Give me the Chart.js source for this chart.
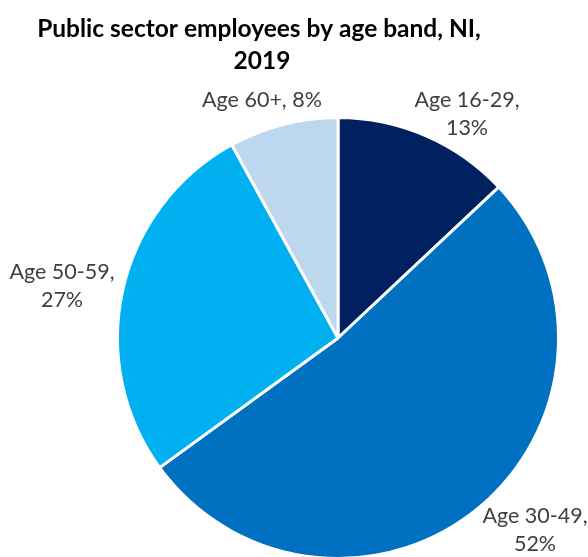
<!DOCTYPE html>
<html>
<head>
<meta charset="utf-8">
<script src="https://cdn.jsdelivr.net/npm/chart.js@4/dist/chart.umd.min.js"></script>
<style>
  html, body { margin: 0; padding: 0; background: #fff; overflow: hidden; }
  #frame { width: 588px; height: 557px; overflow: hidden; }
  #wrap { width: 588px; height: 560px; position: relative; }
</style>
</head>
<body>
<div id="frame"><div id="wrap"><canvas id="pie"></canvas></div></div>
<script>
const ageBands = ['Age 16-29', 'Age 30-49', 'Age 50-59', 'Age 60+'];
const shares = [13, 52, 27, 8];
const sliceColours = ['#002060', '#0070C0', '#00B0F0', '#BDD7EE'];
const titleLines = ['Public sector employees by age band, NI,', '2019'];

// where each outside label sits, and how it wraps
const labelSpots = [
  { x: 467, y: 100, wrap: true },
  { x: 535, y: 516, wrap: true },
  { x: 62, y: 272, wrap: true },
  { x: 262, y: 100, wrap: false }
];

const FONT = 'Lato, "Open Sans", sans-serif';

const labelsPlugin = {
  id: 'pieLabels',
  afterDraw(chart) {
    const ctx = chart.ctx;
    ctx.save();
    ctx.textAlign = 'center';
    ctx.textBaseline = 'middle';

    ctx.fillStyle = '#000';
    ctx.font = `bold 24.5px ${FONT}`;
    ctx.fillText(titleLines[0], 259, 29);
    ctx.fillText(titleLines[1], 262, 61);

    ctx.fillStyle = '#404040';
    ctx.font = `21.5px ${FONT}`;
    ageBands.forEach((band, i) => {
      const spot = labelSpots[i];
      const pct = shares[i] + '%';
      if (spot.wrap) {
        ctx.fillText(band + ',', spot.x, spot.y);
        ctx.fillText(pct, spot.x, spot.y + 28);
      } else {
        ctx.fillText(band + ', ' + pct, spot.x, spot.y);
      }
    });
    ctx.restore();
  }
};

new Chart(document.getElementById('pie'), {
  type: 'pie',
  data: {
    labels: ageBands,
    datasets: [{
      data: shares,
      backgroundColor: sliceColours,
      borderColor: '#fff',
      borderWidth: 3
    }]
  },
  options: {
    responsive: true,
    maintainAspectRatio: false,
    animation: false,
    layout: { padding: { left: 116, right: 28, top: 116, bottom: 0 } },
    plugins: {
      legend: { display: false },
      tooltip: { enabled: false }
    }
  },
  plugins: [labelsPlugin]
});
</script>
</body>
</html>
